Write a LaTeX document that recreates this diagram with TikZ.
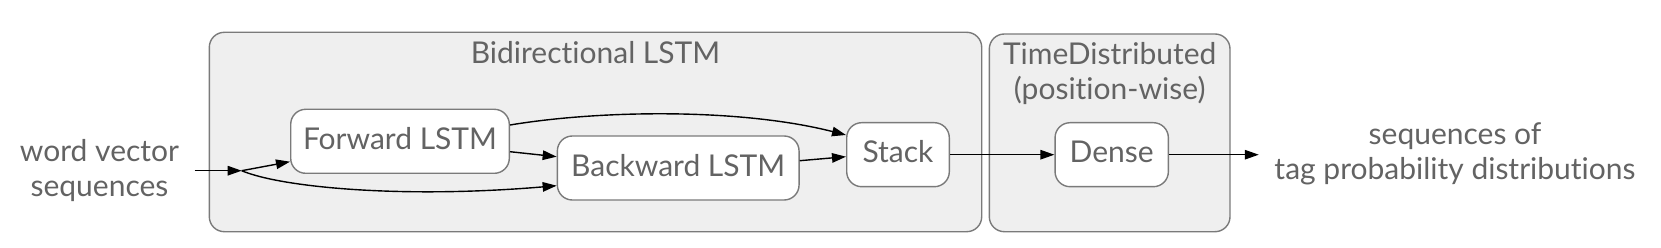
\documentclass[tikz,border=0pt]{standalone}
\usepackage{fontspec}
\setmainfont{Lato}[Ligatures={NoCommon}]
\usetikzlibrary{arrows.meta}
\definecolor{txt}{HTML}{636363}
\definecolor{bord}{HTML}{7A7A7A}
\definecolor{clfill}{HTML}{EFEFEF}
\begin{document}
\begin{tikzpicture}[x=1pt,y=-1pt,
  every node/.style={font=\fontsize{30}{35}\selectfont, text=txt},
  cluster/.style={draw=bord, line width=1.4pt, fill=clfill, rounded corners=15pt, inner sep=0pt},
  layer/.style={draw=bord, line width=1.4pt, fill=white, rounded corners=15pt, inner sep=0pt, text height=21.5pt, text depth=5.5pt},
  lbl/.style={align=center, inner xsep=15.5pt, inner ysep=0pt, anchor=base},
  edge/.style={draw=black, line width=1.4pt, -{Triangle[length=14pt,width=9.5pt]}}
]
\useasboundingbox (0,0) rectangle (1661,248);
% clusters
\node[cluster, minimum width=772.4pt, minimum height=199.4pt] (bidir) at (595.5,132) {};
\node[cluster, minimum width=240.7pt, minimum height=197.7pt] (td) at (1109.65,132.85) {};
\node[anchor=base, inner sep=0pt] (bidirlbl) at (595.5,63.3) {Bidirectional LSTM};
\node[anchor=base, inner sep=0pt, align=center] (tdlbl) at (1109.65,100) {TimeDistributed\\(position-wise)};
% layers
\node[layer, minimum width=218.6pt, minimum height=64pt] (fwd) at (400,141.3) {Forward LSTM};
\node[layer, minimum width=241.7pt, minimum height=64pt] (bwd) at (678.2,168) {Backward LSTM};
\node[layer, minimum width=102.6pt, minimum height=64pt] (stack) at (898,154.7) {Stack};
\node[layer, minimum width=113.3pt, minimum height=64pt] (dense) at (1111.7,154.7) {Dense};
% labels
\node[lbl] (wvs) at (99.5,196.7) {word vector\\sequences};
\node[lbl] (out) at (1455,179.3) {sequences of\\tag probability distributions};
\coordinate (split) at (241.7,170.7);
% edges
\draw[edge] (wvs.east |- split) -- (split);
\draw[edge] (split) -- (fwd);
\draw[edge] (split) .. controls (280,187) and (400,199) .. ([yshift=-17.7pt]bwd.west);
\draw[edge] ([yshift=-10.4pt]fwd.east) -- ([yshift=11.3pt]bwd.west);
\draw[edge] ([yshift=16.3pt]fwd.east) .. controls (600,110) and (740,108) .. ([yshift=19.7pt]stack.west);
\draw[edge] ([yshift=7.3pt]bwd.east) -- ([yshift=-2pt]stack.west);
\draw[edge] (stack) -- (dense);
\draw[edge] (dense) -- (out.west |- dense);
\end{tikzpicture}
\end{document}
